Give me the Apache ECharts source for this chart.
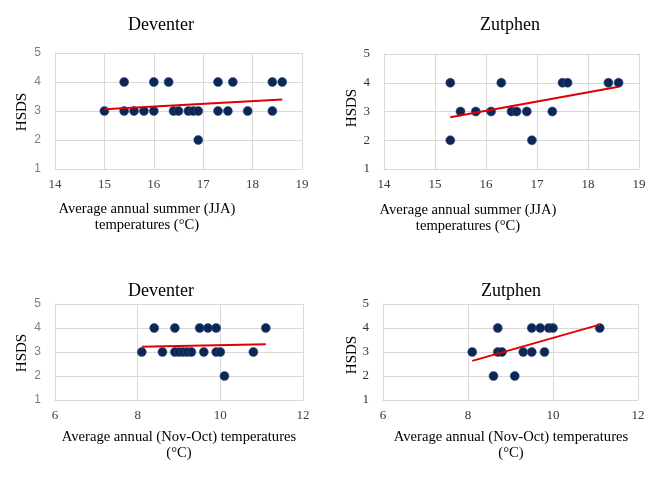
<!DOCTYPE html>
<html><head><meta charset="utf-8">
<script src="https://cdn.jsdelivr.net/npm/echarts@6/dist/echarts.min.js"></script>
<style>html,body{margin:0;padding:0;background:#fff}#c{width:664px;height:481px}</style>
</head><body><div id="c"></div>
<script>
// Deventer, summer (JJA)
const devSummerX = [15.4,16.0,16.3,17.3,17.6,18.4,18.6, 15.0,15.4,15.6,15.8,16.0,16.4,16.5,16.7,16.8,16.9,17.3,17.5,17.9,18.4, 16.9];
const devSummerY = [4,4,4,4,4,4,4, 3,3,3,3,3,3,3,3,3,3,3,3,3,3, 2];
const devSummerTrend = [[15.0,3.06],[18.6,3.40]];
// Zutphen, summer (JJA)
const zutSummerX = [15.3,16.3,17.5,17.6,18.4,18.6, 15.5,15.8,16.1,16.5,16.6,16.8,17.3, 15.3,16.9];
const zutSummerY = [4,4,4,4,4,4, 3,3,3,3,3,3,3, 2,2];
const zutSummerTrend = [[15.3,2.80],[18.6,3.86]];
// Deventer, annual (Nov-Oct)
const devAnnualX = [8.4,8.9,9.5,9.7,9.9,11.1, 8.1,8.6,8.9,9.0,9.1,9.2,9.3,9.6,9.9,10.0,10.8, 10.1];
const devAnnualY = [4,4,4,4,4,4, 3,3,3,3,3,3,3,3,3,3,3, 2];
const devAnnualTrend = [[8.1,3.22],[11.1,3.32]];
// Zutphen, annual (Nov-Oct)
const zutAnnualX = [8.7,9.5,9.7,9.9,10.0,11.1, 8.1,8.7,8.8,9.3,9.5,9.8, 8.6,9.1];
const zutAnnualY = [4,4,4,4,4,4, 3,3,3,3,3,3, 2,2];
const zutAnnualTrend = [[8.1,2.63],[11.1,4.14]];

const yTicks = [1,2,3,4,5];
const titles = ['Deventer','Zutphen','Deventer','Zutphen'];
const yName = 'HSDS';
const xNameSummer = ['Average annual summer (JJA)','temperatures (°C)'];
const xNameAnnual = ['Average annual (Nov-Oct) temperatures','(°C)'];

const zip = (xs, ys) => xs.map((x, i) => [x, ys[i]]);
const panels = [
  {pts: zip(devSummerX, devSummerY), trend: devSummerTrend, xmin:14, xmax:19, xint:1},
  {pts: zip(zutSummerX, zutSummerY), trend: zutSummerTrend, xmin:14, xmax:19, xint:1},
  {pts: zip(devAnnualX, devAnnualY), trend: devAnnualTrend, xmin:6, xmax:12, xint:2},
  {pts: zip(zutAnnualX, zutAnnualY), trend: zutAnnualTrend, xmin:6, xmax:12, xint:2}
];
const grids = [
  {left:55, top:53, width:247, height:116},
  {left:384, top:54, width:255, height:115},
  {left:55, top:304, width:248, height:96},
  {left:383, top:304, width:255, height:96}
];
const serif = '"Liberation Serif", "DejaVu Serif", serif';
const sans = '"Liberation Sans", "DejaVu Sans", sans-serif';
const gridColor = '#d9d9d9';

const xAxes = panels.map((p, i) => ({
  gridIndex: i, type: 'value', min: p.xmin, max: p.xmax, interval: p.xint,
  axisLine: {show: true, lineStyle: {color: gridColor}},
  axisTick: {show: false},
  splitLine: {show: true, lineStyle: {color: gridColor}},
  axisLabel: {color: (i === 0 || i === 2) ? '#404040' : '#333', fontFamily: serif, fontSize: 13, margin: 9}
}));
const yAxes = panels.map((p, i) => ({
  gridIndex: i, type: 'value', min: yTicks[0], max: yTicks[yTicks.length-1], interval: 1,
  axisLine: {show: true, lineStyle: {color: gridColor}},
  axisTick: {show: false},
  splitLine: {show: true, lineStyle: {color: gridColor}},
  axisLabel: (i === 0 || i === 2)
    ? {color: '#7f7f7f', fontFamily: sans, fontSize: 12, margin: 14}
    : {color: '#333', fontFamily: serif, fontSize: 13, margin: 14}
}));
const series = [];
panels.forEach((p, i) => {
  series.push({type: 'scatter', xAxisIndex: i, yAxisIndex: i, data: p.pts, symbolSize: 9,
    itemStyle: {color: '#0c2657', opacity: 1, borderColor: '#3a4f78', borderWidth: 0.6}, z: 2});
  series.push({type: 'line', xAxisIndex: i, yAxisIndex: i, data: p.trend, symbol: 'none',
    lineStyle: {color: '#e00000', width: 2}, z: 3, silent: true});
});

const txt = (x, y, text, size, extra) => Object.assign({
  type: 'text', x: x, y: y,
  style: {text: text, fontFamily: serif, fontSize: size, fill: '#000', align: 'center', verticalAlign: 'middle'}
}, extra || {});
const graphic = [
  txt(161, 25, titles[0], 18), txt(510, 25, titles[1], 18),
  txt(161, 291, titles[2], 18), txt(511, 291, titles[3], 18),
  txt(22, 112, yName, 15, {rotation: Math.PI/2}),
  txt(352, 108, yName, 15, {rotation: Math.PI/2}),
  txt(22, 353, yName, 15, {rotation: Math.PI/2}),
  txt(352, 355, yName, 15, {rotation: Math.PI/2}),
  txt(147, 209, xNameSummer[0], 14.6), txt(147, 225, xNameSummer[1], 14.6),
  txt(468, 210, xNameSummer[0], 14.6), txt(468, 226, xNameSummer[1], 14.6),
  txt(179, 437, xNameAnnual[0], 14.6), txt(179, 453, xNameAnnual[1], 14.6),
  txt(511, 437, xNameAnnual[0], 14.6), txt(511, 453, xNameAnnual[1], 14.6)
];

const chart = echarts.init(document.getElementById('c'), null, {renderer: 'canvas'});
chart.setOption({
  backgroundColor: '#fff', animation: false,
  grid: grids, xAxis: xAxes, yAxis: yAxes, series: series, graphic: graphic
});
</script></body></html>
